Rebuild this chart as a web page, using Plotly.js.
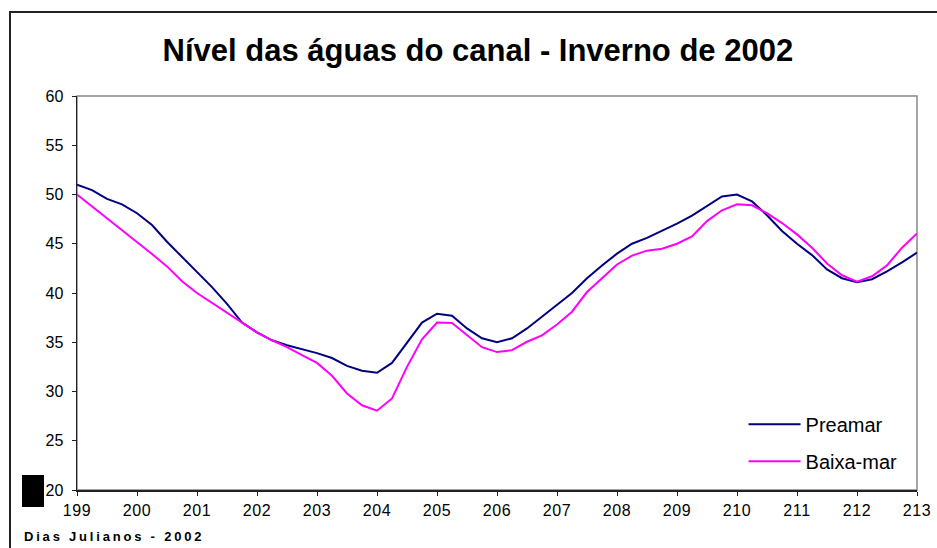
<!DOCTYPE html>
<html>
<head>
<meta charset="utf-8">
<script src="https://cdn.plot.ly/plotly-3.0.1.min.js"></script>
<style>
  html, body { margin: 0; padding: 0; background: #fff; }
  #wrap { position: relative; width: 937px; height: 548px; overflow: hidden; }
  #chart { position: absolute; left: 0; top: 0; width: 937px; height: 548px; }
  #frame { position: absolute; left: 9px; top: 11px; width: 940px; height: 550px;
           border-left: 2px solid #222; border-top: 2px solid #222; pointer-events: none; }
  #blk { position: absolute; left: 22px; top: 475px; width: 22px; height: 32px; background: #000; }
  .xtick text { letter-spacing: 0.6px; }
  .annotation-text { letter-spacing: 2.8px; }
</style>
</head>
<body>
<div id="wrap">
  <div id="chart"></div>
  <div id="frame"></div>
  <div id="blk"></div>
</div>
<script>
const days = [199.0,199.25,199.5,199.75,200.0,200.25,200.5,200.75,201.0,201.25,201.5,201.75,
  202.0,202.25,202.5,202.75,203.0,203.25,203.5,203.75,204.0,204.25,204.5,204.75,
  205.0,205.25,205.5,205.75,206.0,206.25,206.5,206.75,207.0,207.25,207.5,207.75,
  208.0,208.25,208.5,208.75,209.0,209.25,209.5,209.75,210.0,210.25,210.5,210.75,
  211.0,211.25,211.5,211.75,212.0,212.25,212.5,212.75,213.0];

const preamar = [51.0,50.45,49.55,49.0,48.1,46.9,45.2,43.7,42.1,40.6,38.9,37.0,
  36.0,35.2,34.7,34.3,33.9,33.4,32.6,32.1,31.9,32.9,34.9,37.0,
  37.9,37.7,36.4,35.4,35.0,35.4,36.4,37.6,38.85,40.0,41.5,42.8,
  44.0,45.0,45.6,46.3,47.05,47.85,48.8,49.8,50.0,49.3,47.9,46.3,
  45.0,43.85,42.4,41.5,41.1,41.4,42.2,43.1,44.1];

const baixamar = [50.0,48.8,47.6,46.4,45.2,43.95,42.7,41.2,40.0,39.0,38.0,37.05,
  36.0,35.2,34.5,33.7,32.9,31.6,29.8,28.6,28.05,29.3,32.5,35.3,
  37.0,36.95,35.7,34.5,34.0,34.2,35.05,35.7,36.8,38.1,40.1,41.5,
  42.9,43.8,44.3,44.5,45.0,45.75,47.3,48.4,49.0,48.9,48.1,47.1,
  45.95,44.6,43.0,41.8,41.15,41.7,42.8,44.6,46.05];

const seriesNames = ['Preamar', 'Baixa-mar'];
const titleText = 'Nível das águas do canal - Inverno de 2002';
const xAxisLabel = 'Dias Julianos - 2002';
const xTicks = [199,200,201,202,203,204,205,206,207,208,209,210,211,212,213];
const yTicks = [20,25,30,35,40,45,50,55,60];

const font = 'Arial, "Liberation Sans", sans-serif';

const traces = [
  { x: days, y: preamar, name: seriesNames[0], type: 'scatter', mode: 'lines', legendgroup: 'a',
    line: { color: '#000080', width: 2 } },
  { x: days, y: baixamar, name: seriesNames[1], type: 'scatter', mode: 'lines', legendgroup: 'b',
    line: { color: '#FF00FF', width: 2 } }
];

const axisCommon = { showgrid: false, zeroline: false, showline: true, linecolor: '#222', linewidth: 1.5,
  ticks: 'outside', ticklen: 4, tickwidth: 1, tickcolor: '#222' };

const layout = {
  width: 937, height: 548,
  margin: { l: 77, r: 20, t: 96, b: 58 },
  paper_bgcolor: '#fff', plot_bgcolor: '#fff',
  font: { family: font, color: '#000', size: 16 },
  title: { text: '<b>' + titleText + '</b>', font: { family: font, size: 31, color: '#000' },
           x: 0.51, xanchor: 'center', y: 0.908, yanchor: 'middle' },
  xaxis: Object.assign({}, axisCommon, { range: [199, 213], tickvals: xTicks, ticktext: xTicks.map(String),
           tickfont: { size: 16 }, ticklabelstandoff: 1 }),
  yaxis: Object.assign({}, axisCommon, { range: [20, 60], tickvals: yTicks, ticktext: yTicks.map(String),
           tickfont: { size: 16 }, ticklabelstandoff: 5 }),
  xaxis2: { overlaying: 'x', anchor: 'y', side: 'bottom', range: [199, 213], tickvals: xTicks,
           showticklabels: false, ticks: 'inside', ticklen: 4, tickcolor: '#222', showline: false,
           showgrid: false, zeroline: false },
  yaxis2: { overlaying: 'y', anchor: 'x', side: 'left', range: [20, 60], tickvals: yTicks,
           showticklabels: false, ticks: 'inside', ticklen: 4, tickcolor: '#222', showline: false,
           showgrid: false, zeroline: false },
  shapes: [
    { type: 'rect', xref: 'paper', yref: 'paper', x0: 0, x1: 1, y0: 0, y1: 1,
      line: { color: '#888', width: 1.5 }, layer: 'below' }
  ],
  showlegend: true,
  legend: { x: 0.7935, y: 0.12, xanchor: 'left', yanchor: 'middle', bgcolor: 'rgba(0,0,0,0)',
            font: { family: font, size: 20, color: '#000' }, itemwidth: 52, tracegroupgap: 8 },
  annotations: [
    { text: '<b>' + xAxisLabel + '</b>', xref: 'paper', yref: 'paper', x: -0.066, y: -0.117,
      xanchor: 'left', yanchor: 'middle', showarrow: false, font: { family: font, size: 13, color: '#000' } }
  ]
};

Plotly.newPlot('chart', traces, layout, { displayModeBar: false, staticPlot: true });
</script>
</body>
</html>
